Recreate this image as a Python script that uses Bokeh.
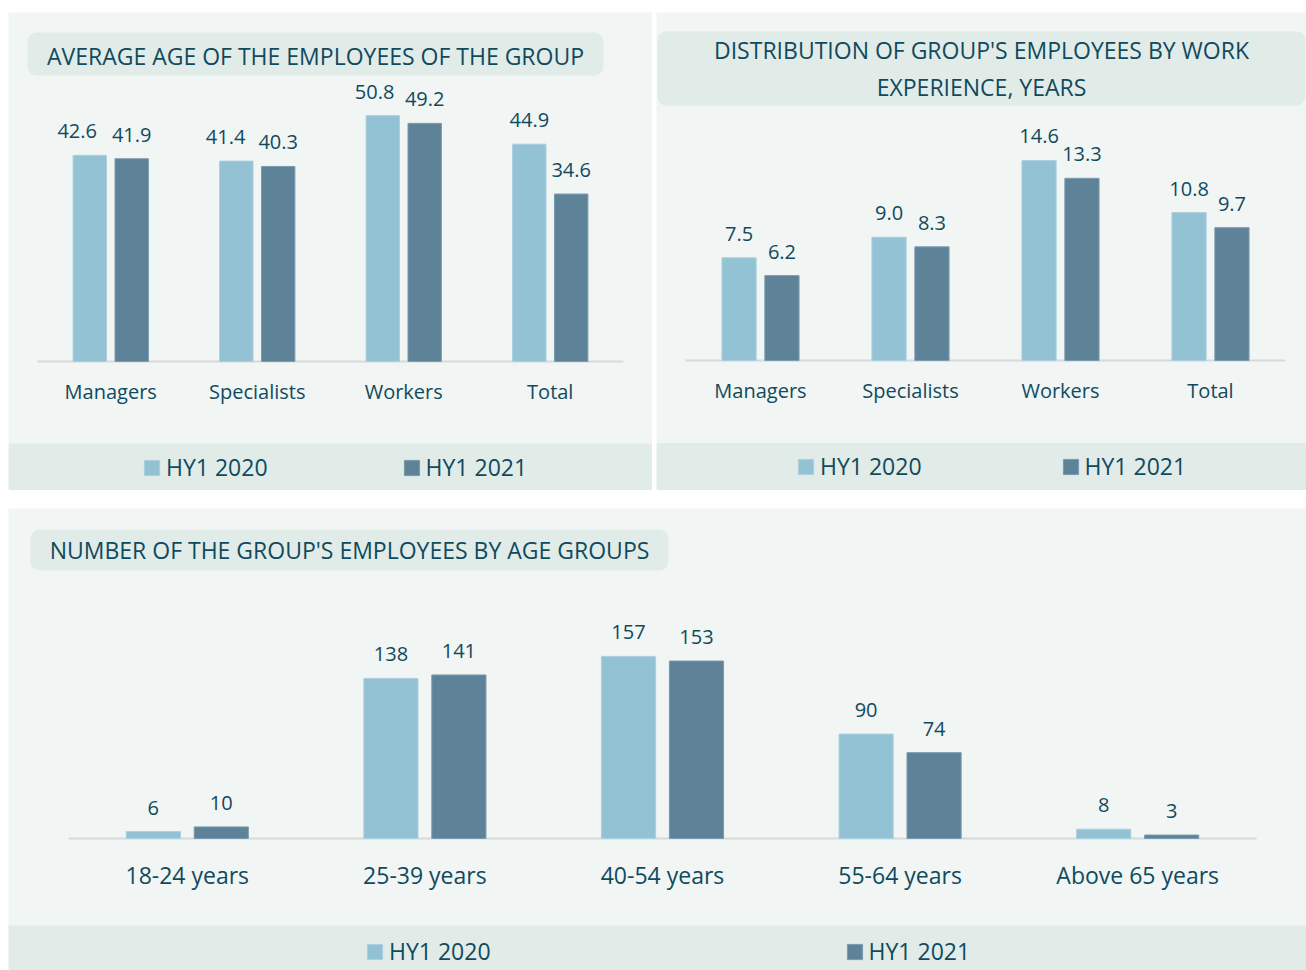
from bokeh.plotting import figure
from bokeh.models import Range1d, BoxAnnotation, Label, Legend, LegendItem, ColumnDataSource
from bokeh.layouts import row, column
from bokeh.transform import dodge
from bokeh.core.properties import value
from bokeh.embed import file_html
from bokeh.resources import INLINE

# ---------------- data ----------------
series = ["HY1 2020", "HY1 2021"]

age_cats = ["Managers", "Specialists", "Workers", "Total"]
age_2020 = [42.6, 41.4, 50.8, 44.9]
age_2021 = [41.9, 40.3, 49.2, 34.6]

exp_cats = ["Managers", "Specialists", "Workers", "Total"]
exp_2020 = [7.5, 9.0, 14.6, 10.8]
exp_2021 = [6.2, 8.3, 13.3, 9.7]

grp_cats = ["18-24 years", "25-39 years", "40-54 years", "55-64 years", "Above 65 years"]
grp_2020 = [6, 138, 157, 90, 8]
grp_2021 = [10, 141, 153, 74, 3]

# ---------------- style ----------------
FONT = "Open Sans"
TEXT = "#104a5d"
LIGHT = "#93c2d4"
LIGHT_EDGE = "#acd0de"
DARK = "#5e8399"
DARK_EDGE = "#7c9bb0"
PANEL = "#f1f5f4"
STRIP = "#e1ece9"
BASE = "#d9d9d9"


def make_panel(cats, v20, v21, fmt, W, H, left_white, top_white, x0, unit, base, ppu,
               strip_top, title_lines, title_box, title_size, legend_x, legend_cy,
               legend_spacing, val_size, cat_size, cat_off, leg_size):
    FW = W - left_white
    FH = H - top_white
    n = len(cats)
    p = figure(width=W, height=H,
               x_range=Range1d(-x0 / unit, (FW - x0) / unit),
               y_range=Range1d(-(FH - base) / ppu, base / ppu),
               output_backend="svg", toolbar_location=None,
               x_axis_location=None, y_axis_location=None,
               min_border=0, min_border_top=top_white, min_border_left=left_white)
    p.grid.visible = False
    p.outline_line_color = None
    p.background_fill_color = PANEL
    p.border_fill_color = "white"

    dx = lambda px: (px - x0) / unit
    dy = lambda py: (base - py) / ppu

    # legend strip
    p.add_layout(BoxAnnotation(top=dy(strip_top), fill_color=STRIP, fill_alpha=1,
                               line_color=None, level="underlay"))
    # title box
    l, r, t, b = title_box
    p.add_layout(BoxAnnotation(left=dx(l), right=dx(r), top=dy(t), bottom=dy(b),
                               fill_color=STRIP, fill_alpha=1, line_color=None,
                               border_radius=9, level="underlay"))
    cx = (l + r) / 2
    for text, cy in title_lines:
        p.add_layout(Label(x=dx(cx), y=dy(cy), text=text, text_align="center",
                           text_baseline="middle", text_font=FONT,
                           text_font_size=f"{title_size}px", text_color=TEXT))

    off, bw = 0.143, 0.228
    l20 = [fmt.format(v) for v in v20]
    l21 = [fmt.format(v) for v in v21]
    # nudge the left value label aside when the two labels would collide
    sh20 = []
    for a, b_, la, lb in zip(v20, v21, l20, l21):
        gap = 2 * off * unit - (len(la) + len(lb)) * 5
        vert = abs(a - b_) * ppu
        sh20.append(-max(0.0, 16 - vert) if gap < 5 else 0.0)

    src = ColumnDataSource(dict(
        x=[i + 0.5 for i in range(n)], cat=cats, v20=v20, v21=v21,
        l20=l20, l21=l21, sh20=sh20))

    # baseline
    p.segment(x0=0, y0=0, x1=n, y1=0, line_color=BASE, line_width=2)

    r1 = p.vbar(x=dodge("x", -off), top="v20", bottom=0, width=bw, source=src,
                fill_color=LIGHT, line_color=LIGHT_EDGE, line_width=1)
    r2 = p.vbar(x=dodge("x", off), top="v21", bottom=0, width=bw, source=src,
                fill_color=DARK, line_color=DARK_EDGE, line_width=1)

    p.text(x=dodge("x", -off), y="v20", text="l20", source=src, text_align="center",
           text_baseline="alphabetic", x_offset="sh20", y_offset=-24,
           text_font=value(FONT), text_font_size=f"{val_size}px", text_color=TEXT)
    p.text(x=dodge("x", off), y="v21", text="l21", source=src, text_align="center",
           text_baseline="alphabetic", y_offset=-24,
           text_font=value(FONT), text_font_size=f"{val_size}px", text_color=TEXT)

    p.text(x="x", y=0, text="cat", source=src, text_align="center",
           text_baseline="middle", y_offset=cat_off, text_font=value(FONT),
           text_font_size=f"{cat_size}px", text_color=TEXT)

    # legend (area glyphs are drawn at 80% of the glyph box)
    lh = 32
    legend = Legend(items=[LegendItem(label=series[0], renderers=[r1]),
                           LegendItem(label=series[1], renderers=[r2])],
                    orientation="horizontal",
                    location=(legend_x, (FH - legend_cy) - lh / 2),
                    padding=0, margin=0, spacing=legend_spacing,
                    glyph_width=19, glyph_height=19, label_standoff=5,
                    label_width=100, label_height=lh,
                    background_fill_alpha=0, border_line_alpha=0,
                    label_text_font=FONT, label_text_font_size=f"{leg_size}px",
                    label_text_color=TEXT)
    p.add_layout(legend)
    return p


# panel 1: page x 8..652, y 12..490
p1 = make_panel(age_cats, age_2020, age_2021, "{:.1f}", W=652, H=490,
                left_white=8, top_white=12,
                x0=29, unit=146.5, base=349, ppu=4.84, strip_top=431,
                title_lines=[("AVERAGE AGE OF THE EMPLOYEES OF THE GROUP", 43)],
                title_box=(19, 595, 20, 63), title_size=23,
                legend_x=134, legend_cy=455, legend_spacing=134,
                val_size=20, cat_size=20, cat_off=30, leg_size=23)

# panel 2: page x 656..1306, y 8..490
p2 = make_panel(exp_cats, exp_2020, exp_2021, "{:.1f}", W=650, H=490,
                left_white=0, top_white=8,
                x0=29, unit=150, base=351, ppu=13.82, strip_top=434,
                title_lines=[("DISTRIBUTION OF GROUP'S EMPLOYEES BY WORK", 38),
                             ("EXPERIENCE, YEARS", 75)],
                title_box=(1, 649, 19, 94), title_size=23,
                legend_x=140, legend_cy=458, legend_spacing=139,
                val_size=20, cat_size=20, cat_off=30, leg_size=23)

# panel 3: page x 8..1306, y 508..970
p3 = make_panel(grp_cats, grp_2020, grp_2021, "{:.0f}", W=1306, H=462,
                left_white=8, top_white=0,
                x0=60, unit=237.6, base=330, ppu=1.16, strip_top=417,
                title_lines=[("NUMBER OF THE GROUP'S EMPLOYEES BY AGE GROUPS", 41)],
                title_box=(22, 660, 21, 62), title_size=23,
                legend_x=357, legend_cy=443, legend_spacing=354,
                val_size=20, cat_size=23, cat_off=36, leg_size=23)

layout = column(row(p1, p2, spacing=4), p3, spacing=18)

open("out.html", "w").write(file_html(layout, INLINE))
